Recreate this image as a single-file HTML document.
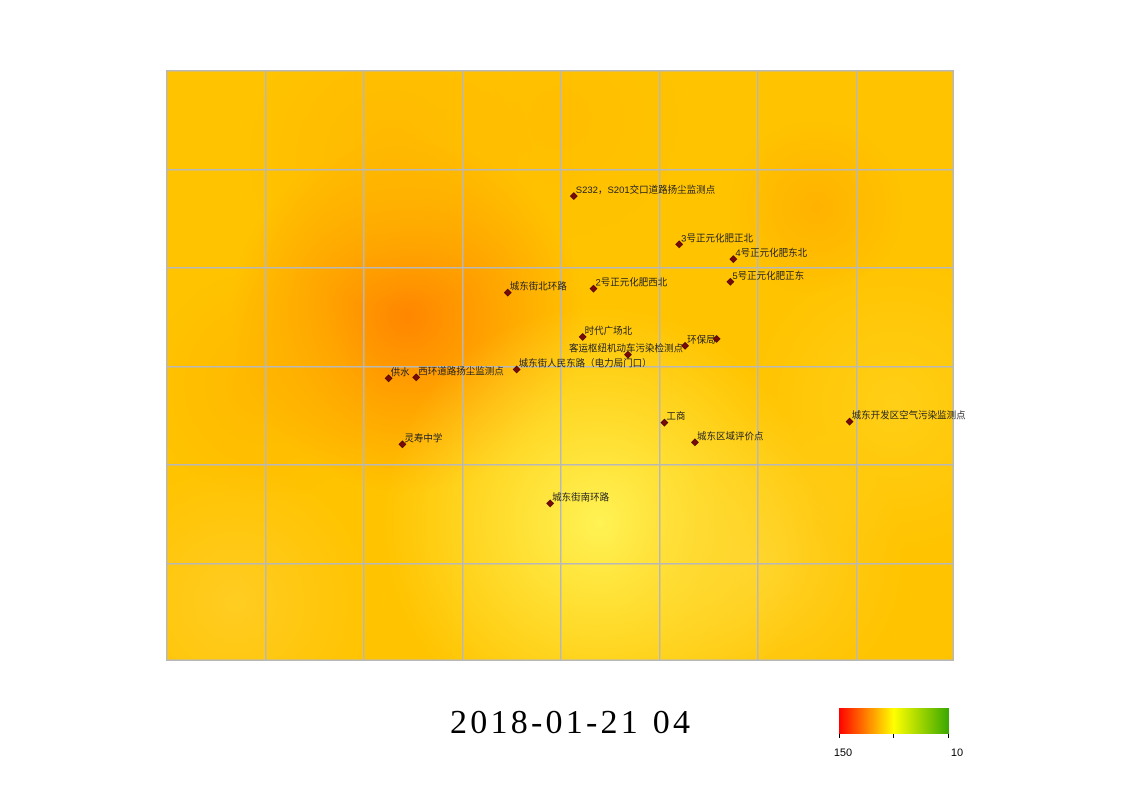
<!DOCTYPE html>
<html><head><meta charset="utf-8"><style>
body{margin:0;background:#fff;width:1122px;height:794px;overflow:hidden;font-family:"Liberation Sans","Noto Sans CJK SC",sans-serif}
</style></head><body>
<svg id="chart" width="1122" height="794" xmlns="http://www.w3.org/2000/svg">
<defs id="defs"></defs>
<g id="plot"></g>
<g id="gridg"></g>
<g id="marks"></g>
<text x="450" y="733" font-family="Liberation Serif, serif" font-size="34" textLength="240" lengthAdjust="spacing" fill="#000">2018-01-21  04</text>
<defs><linearGradient id="lg" x1="0" x2="1"><stop offset="0" stop-color="#ff0000"/><stop offset="0.5" stop-color="#ffff00"/><stop offset="1" stop-color="#3aa800"/></linearGradient></defs>
<rect x="839" y="708" width="110" height="26" fill="url(#lg)"/>
<g stroke="#000" stroke-width="1"><line x1="839.5" y1="734" x2="839.5" y2="738"/><line x1="893.5" y1="734" x2="893.5" y2="738"/><line x1="948.5" y1="734" x2="948.5" y2="738"/></g>
<text x="843" y="756" font-size="11" text-anchor="middle">150</text>
<text x="957" y="756" font-size="11" text-anchor="middle">10</text>
</svg>
<script>
const stationNames=["S232，S201交口道路扬尘监测点","3号正元化肥正北","4号正元化肥东北","5号正元化肥正东","2号正元化肥西北","城东街北环路","时代广场北","环保局","","客运枢纽机动车污染检测点","城东街人民东路（电力局门口）","供水","西环道路扬尘监测点","工商","城东开发区空气污染监测点","城东区域评价点","灵寿中学","城东街南环路"];
const stationX=[4.14,5.21,5.76,5.73,4.34,3.47,4.23,5.27,5.59,4.69,3.56,2.26,2.54,5.06,6.94,5.37,2.4,3.9];
const stationY=[1.28,1.77,1.92,2.15,2.22,2.26,2.71,2.8,2.73,2.89,3.04,3.13,3.12,3.58,3.57,3.78,3.8,4.4];
const labelLeft=[0,0,0,0,0,0,0,0,0,1,0,0,0,0,0,0,0,0];
const blobX=[2.45,4.4,6.6,2.3,0.7,7.4,1.0,6.0,4.0];
const blobY=[2.5,4.6,1.4,0.9,5.4,3.4,3.2,5.0,0.5];
const blobR=[1.8,2.2,0.9,1.5,1.4,1.5,1.2,1.5,1.3];
const blobColor=["#ff8600","#fff254","#ffae00","#ffb400","#ffd030","#ffd420","#ffb000","#ffd838","#ffbb00"];
const blobOpacity=[1,1,0.8,0.7,0.7,0.7,0.6,0.7,0.6];
const X0=166,Y0=70,W=788,H=591,NX=8,NY=6;
const sx=v=>X0+v*W/NX, sy=v=>Y0+v*H/NY, sr=v=>v*W/NX;
const NS="http://www.w3.org/2000/svg";
const plot=document.getElementById('plot'),defs=document.getElementById('defs');
const gridg=document.getElementById('gridg'),marks=document.getElementById('marks');
function mk(t,a,p){const e=document.createElementNS(NS,t);for(const k in a)e.setAttribute(k,a[k]);(p||plot).appendChild(e);return e;}
const clip=mk('clipPath',{id:'pc'},defs);mk('rect',{x:X0,y:Y0,width:W,height:H},clip);
const bg=mk('rect',{x:X0,y:Y0,width:W,height:H,fill:'#ffc300'});


const hg=mk('g',{'clip-path':'url(#pc)'});
blobX.forEach((bx,i)=>{
 const g=mk('radialGradient',{id:'b'+i},defs);
 mk('stop',{offset:'0','stop-color':blobColor[i],'stop-opacity':blobOpacity[i]},g);
 mk('stop',{offset:'1','stop-color':blobColor[i],'stop-opacity':0},g);
 const c=mk('circle',{cx:sx(bx),cy:sy(blobY[i]),r:sr(blobR[i]),fill:'url(#b'+i+')'},hg);
 
 
});
for(let i=0;i<=NX;i++)mk('rect',{x:Math.min(Math.round(sx(i)),X0+W-1.5),y:Y0,width:1.5,height:H,fill:'#b8b8b8'},gridg);
for(let j=0;j<=NY;j++)mk('rect',{x:X0,y:Math.min(Math.round(sy(j)),Y0+H-1.5),width:W,height:1.5,fill:'#b8b8b8'},gridg);
stationX.forEach((x,i)=>{
 const px=sx(x),py=sy(stationY[i]);
 const m=mk('rect',{x:px-2.5,y:py-2.5,width:5,height:5,fill:'#7a0a0a',stroke:'#3a0000','stroke-width':0.6,transform:`rotate(45 ${px} ${py})`},marks);
 
 
 if(stationNames[i]){
  const t=mk('text',{x:labelLeft[i]?px+55:px+2,y:py-3,'font-size':9.5,fill:'#222','text-anchor':labelLeft[i]?'end':'start'},marks);
  t.textContent=stationNames[i];
  
  
 }
});
</script>
</body></html>
